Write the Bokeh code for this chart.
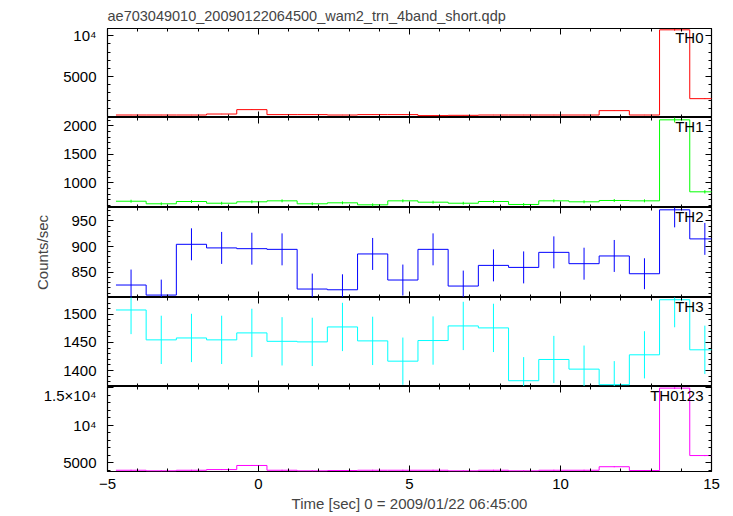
import numpy as np
from bokeh.plotting import figure
from bokeh.models import (LinearAxis, FixedTicker, Range1d, Label,
                          CustomJSTickFormatter, ColumnDataSource)
from bokeh.layouts import column
from bokeh.embed import file_html
from bokeh.resources import INLINE

# ---------------- data ----------------
title_text = "ae703049010_20090122064500_wam2_trn_4band_short.qdp"
x_label = "Time [sec] 0 = 2009/01/22 06:45:00"
y_label = "Counts/sec"

time_sec = [-4.22, -3.22, -2.22, -1.22, -0.22, 0.78, 1.78, 2.78, 3.78, 4.78,
            5.78, 6.78, 7.78, 8.78, 9.78, 10.78, 11.78, 12.78, 13.78, 14.78]
bin_half = 0.5

th0 = [246, 246, 246, 369, 909, 295, 295, 246, 295, 295,
       172, 209, 246, 246, 246, 246, 786, 246, 10737, 2260]
th0_err = [16, 16, 16, 19, 30, 17, 17, 16, 17, 17,
           13, 14, 16, 16, 16, 16, 28, 16, 104, 48]

th1 = [677, 632, 672, 642, 667, 684, 632, 649, 614, 684,
       660, 642, 672, 620, 684, 667, 690, 684, 2105, 842]
th1_err = [26, 25, 26, 25, 26, 26, 25, 25, 25, 26,
           26, 25, 26, 25, 26, 26, 26, 26, 46, 29]

th2 = [825.5, 806, 904.5, 897.5, 896, 894.7, 817.7, 816.3, 885.8, 835.2,
       894.7, 823.5, 863.6, 859.7, 888.9, 866.9, 881.9, 847.4, 971.4, 915]
th2_err = [30, 30, 31, 31, 31, 31, 30, 30, 31, 30,
           31, 30, 31, 31, 31, 31, 31, 30, 34, 31]

th3 = [1507.8, 1454.6, 1458, 1454.6, 1467, 1452, 1451, 1477.6, 1452.8, 1416.7,
       1453.4, 1479.4, 1475.9, 1381.9, 1419.7, 1402.5, 1374.8, 1428, 1526, 1436.9]
th3_err = [43, 43, 43, 43, 43, 43, 43, 43, 43, 42,
           43, 43, 43, 42, 42, 42, 42, 42, 49, 43]

th0123 = [4025, 3949, 4025, 4113, 4658, 4025, 3949, 3987, 4025, 4025,
          4025, 3949, 4025, 3949, 4025, 4025, 4493, 3987, 14912, 5974]
th0123_err = [63, 63, 63, 64, 68, 63, 63, 63, 63, 63,
              63, 63, 63, 63, 63, 63, 67, 63, 122, 77]

panel_names = ["TH0", "TH1", "TH2", "TH3", "TH0123"]

x_ticks = [-5, 0, 5, 10, 15]
x_tick_labels = ["\u22125", "0", "5", "10", "15"]
x_minor = list(range(-5, 16))

th0_ticks = [5000, 10000]
th0_tick_labels = ["5000", "10\u2074"]
th0_minor = list(range(0, 11000, 1000))

th1_ticks = [1000, 1500, 2000]
th1_tick_labels = ["1000", "1500", "2000"]
th1_minor = list(range(600, 2200, 100))

th2_ticks = [850, 900, 950]
th2_tick_labels = ["850", "900", "950"]
th2_minor = list(range(810, 980, 10))

th3_ticks = [1400, 1450, 1500]
th3_tick_labels = ["1400", "1450", "1500"]
th3_minor = list(range(1380, 1540, 10))

th0123_ticks = [5000, 10000, 15000]
th0123_tick_labels = ["5000", "10\u2074", "1.5\u00d710\u2074"]
th0123_minor = list(range(4000, 16000, 1000))

# ---------------- styling ----------------
FONT = "Liberation Sans"
FS = "15px"
colors = ["#ff0000", "#00ff00", "#0000ff", "#00ffff", "#ff00ff"]
y_ranges = [(-60, 10900), (567, 2146), (801.3, 975.9), (1371.6, 1530), (3860, 15127)]
frame_heights = [89, 90, 90, 89, 89]
TOP = 28
TOTAL_H = 514
W = 725
LEFT = 107
RIGHT = 14

x_range = Range1d(-5, 15)
blank = CustomJSTickFormatter(code="return ''")


def style_axis(ax, show_labels):
    ax.axis_line_color = None
    ax.major_tick_in = 6
    ax.major_tick_out = 0
    ax.minor_tick_in = 3
    ax.minor_tick_out = 0
    ax.major_tick_line_color = "black"
    ax.minor_tick_line_color = "black"
    if show_labels:
        ax.major_label_text_font = FONT
        ax.major_label_text_font_size = FS
        ax.major_label_text_color = "black"
    else:
        ax.formatter = blank
        ax.major_label_text_font_size = "0px"
        ax.major_label_standoff = 0


def make_panel(i, vals, errs, yticks, ylabels, yminor):
    first = i == 0
    last = i == 4
    bottom_border = 0
    if first:
        h = TOP + frame_heights[i]
    elif last:
        h = TOTAL_H - TOP - sum(frame_heights[:4])
        bottom_border = h - frame_heights[i]
    else:
        h = frame_heights[i]
    p = figure(width=W, height=h, x_range=x_range,
               y_range=Range1d(*y_ranges[i]),
               output_backend="svg", toolbar_location=None, tools="",
               x_axis_location=None, y_axis_location=None,
               min_border_left=LEFT, min_border_right=RIGHT,
               min_border_top=TOP if first else 0,
               min_border_bottom=bottom_border)
    p.outline_line_color = "black"
    p.outline_line_width = 1.2
    p.background_fill_color = "white"
    p.border_fill_color = "white"
    for g in p.grid:
        g.visible = False

    if first:
        p.title.text = title_text
        p.title.text_font = FONT
        p.title.text_font_size = "14.5px"
        p.title.text_font_style = "normal"
        p.title.align = "left"
        p.title.standoff = 9

    xt = FixedTicker(ticks=x_ticks, minor_ticks=x_minor)
    yt = FixedTicker(ticks=yticks, minor_ticks=yminor)

    left = LinearAxis(ticker=yt,
                      major_label_overrides={float(t): s for t, s in zip(yticks, ylabels)})
    style_axis(left, True)
    left.major_label_standoff = 11
    if i == 2:
        left.axis_label = y_label
        left.axis_label_text_font = FONT
        left.axis_label_text_font_size = FS
        left.axis_label_text_font_style = "normal"
        left.axis_label_standoff = 17
    p.add_layout(left, "left")

    right = LinearAxis(ticker=yt)
    style_axis(right, False)
    p.add_layout(right, "right")

    top = LinearAxis(ticker=xt)
    style_axis(top, False)
    p.add_layout(top, "above")

    bottom = LinearAxis(ticker=xt)
    if last:
        style_axis(bottom, True)
        bottom.major_label_overrides = {float(t): s for t, s in zip(x_ticks, x_tick_labels)}
        bottom.major_label_standoff = 7
        bottom.axis_label = x_label
        bottom.axis_label_text_font = FONT
        bottom.axis_label_text_font_size = FS
        bottom.axis_label_text_font_style = "normal"
        bottom.axis_label_standoff = 3
    else:
        style_axis(bottom, False)
    p.add_layout(bottom, "below")

    t = np.array(time_sec)
    v = np.array(vals, dtype=float)
    e = np.array(errs, dtype=float)
    edges = np.append(t - bin_half, t[-1] + bin_half)
    step_src = ColumnDataSource(dict(x=edges, y=np.append(v, v[-1])))
    p.step(x="x", y="y", source=step_src, mode="after",
           line_color=colors[i], line_width=1)
    err_src = ColumnDataSource(dict(x=t, lo=v - e, hi=v + e))
    p.segment(x0="x", y0="lo", x1="x", y1="hi", source=err_src,
              line_color=colors[i], line_width=1)

    p.add_layout(Label(x=15, y=y_ranges[i][1], x_offset=-8, y_offset=0,
                       text=panel_names[i], text_align="right",
                       text_baseline="top", text_font=FONT,
                       text_font_size=FS, text_color="black"))
    return p


panels = [
    make_panel(0, th0, th0_err, th0_ticks, th0_tick_labels, th0_minor),
    make_panel(1, th1, th1_err, th1_ticks, th1_tick_labels, th1_minor),
    make_panel(2, th2, th2_err, th2_ticks, th2_tick_labels, th2_minor),
    make_panel(3, th3, th3_err, th3_ticks, th3_tick_labels, th3_minor),
    make_panel(4, th0123, th0123_err, th0123_ticks, th0123_tick_labels, th0123_minor),
]

layout = column(*panels, spacing=0)
open("out.html", "w").write(file_html(layout, INLINE))
